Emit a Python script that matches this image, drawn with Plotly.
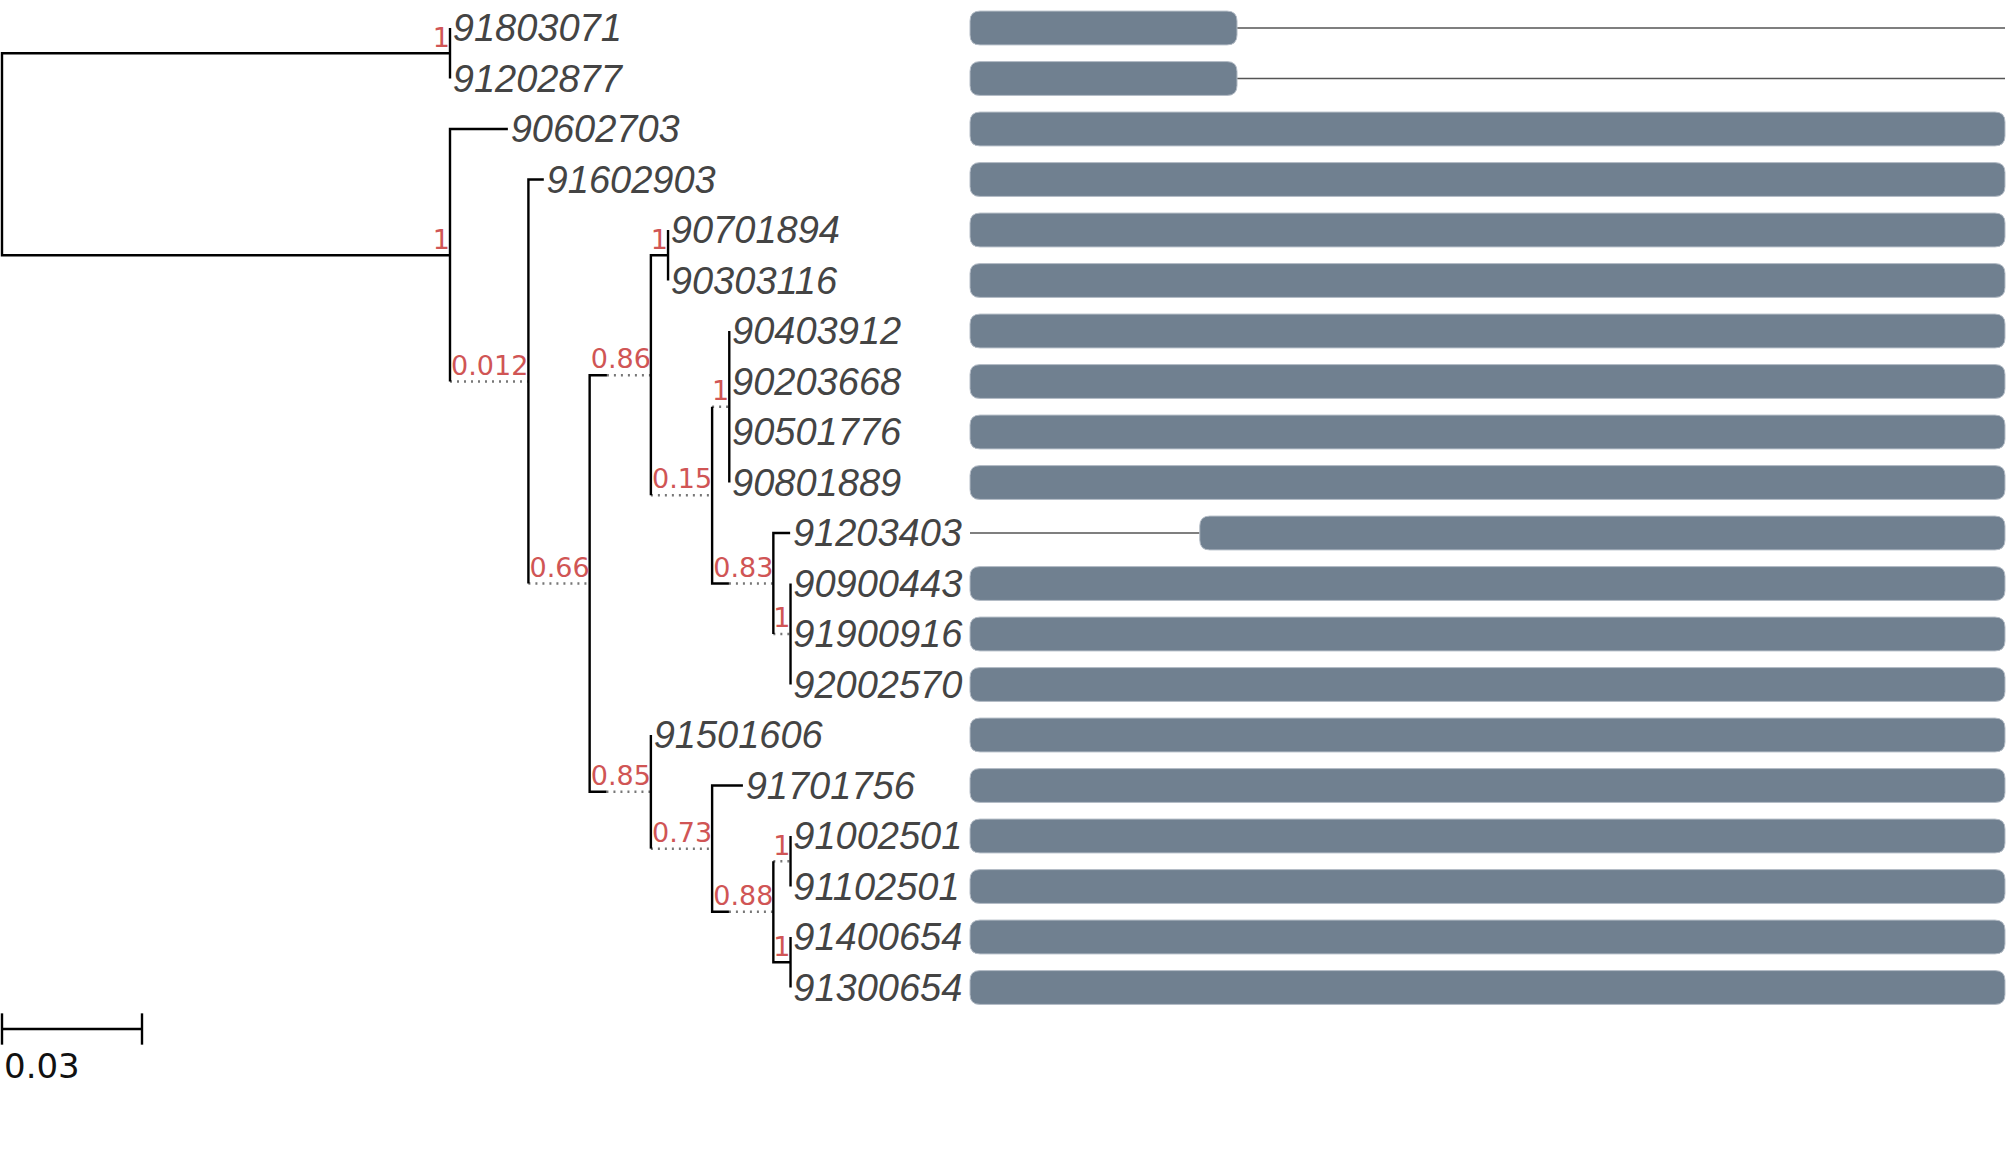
import plotly.graph_objects as go

# tree, one entry per node; children are drawn in list order
node_ids = ["root", "n1", "91803071", "91202877", "n2", "90602703", "n3", "91602903",
            "n4", "n5", "n6", "90701894", "90303116", "n7", "n8",
            "90403912", "90203668", "90501776", "90801889",
            "n9", "91203403", "n10", "90900443", "91900916", "92002570",
            "n11", "91501606", "n12", "91701756", "n13", "n14",
            "91002501", "91102501", "n15", "91400654", "91300654"]
parents = [None, "root", "n1", "n1", "root", "n2", "n2", "n3",
           "n3", "n4", "n5", "n6", "n6", "n5", "n7",
           "n8", "n8", "n8", "n8",
           "n7", "n9", "n9", "n10", "n10", "n10",
           "n4", "n11", "n11", "n12", "n12", "n13",
           "n14", "n14", "n13", "n15", "n15"]
branch_lengths = [0, 0.096, 0, 0, 0.096, 0.0124, 0, 0.0033,
                  0, 0.0037, 0.0036, 0, 0, 0, 0,
                  0, 0, 0, 0,
                  0.0036, 0.0036, 0, 0, 0, 0,
                  0.0036, 0, 0, 0.0066, 0.0036, 0,
                  0, 0, 0.0036, 0, 0]
supports = ["", "1", "", "", "1", "", "0.012", "",
            "0.66", "0.86", "1", "", "", "0.15", "1",
            "", "", "", "",
            "0.83", "", "1", "", "", "",
            "0.85", "", "0.73", "", "0.88", "1",
            "", "", "1", "", ""]

# alignment coverage per leaf (rows top to bottom)
aln_length = 1000
cov_start = [0, 0, 0, 0, 0, 0, 0, 0, 0, 0, 222, 0, 0, 0, 0, 0, 0, 0, 0, 0]
cov_end = [258, 258, 1000, 1000, 1000, 1000, 1000, 1000, 1000, 1000,
           1000, 1000, 1000, 1000, 1000, 1000, 1000, 1000, 1000, 1000]

scale_length = 0.03

W, H = 2007, 1155
PX_PER_UNIT = 140 / 0.03
ROW0, PITCH = 28, 50.5
ALN_L, ALN_R = 970, 2005
SUP_SIZE = 27

children = {n: [] for n in node_ids}
for n, p in zip(node_ids, parents):
    if p:
        children[p].append(n)
blen = dict(zip(node_ids, branch_lengths))
supp = dict(zip(node_ids, supports))


def face_width(s):
    # width of the support text, the branch is padded with dots up to it
    return sum(0.36 if c == "." else 0.636 for c in s) * 27 / PX_PER_UNIT


xpos, ypos, leaves = {}, {}, []


def place(n, x):
    xpos[n] = x
    kids = children[n]
    if not kids:
        ypos[n] = len(leaves)
        leaves.append(n)
        return
    for k in kids:
        place(k, x + max(blen[k], face_width(supp[k])))
    ypos[n] = (ypos[kids[0]] + ypos[kids[-1]]) / 2


place("root", 0)

sx, sy, dx, dy = [], [], [], []
for n in node_ids:
    kids = children[n]
    if not kids:
        continue
    xp = xpos[n]
    first, last = kids[0], kids[-1]
    sx += [xp + blen[first], xp, xp, xp + blen[last], None]
    sy += [ypos[first], ypos[first], ypos[last], ypos[last], None]
    for k in kids[1:-1]:
        if blen[k] > 0:
            sx += [xp, xp + blen[k], None]
            sy += [ypos[k], ypos[k], None]
    for k in kids:
        if xpos[k] - (xp + blen[k]) > 1e-9:
            dx += [xp + blen[k], xpos[k], None]
            dy += [ypos[k], ypos[k], None]

fig = go.Figure()
fig.add_trace(go.Scatter(x=dx, y=dy, mode="lines",
                         line=dict(color="#777777", width=2.5, dash="2px,5px")))
fig.add_trace(go.Scatter(x=sx, y=sy, mode="lines",
                         line=dict(color="black", width=2.4)))

sup_nodes = [n for n in node_ids if supp[n]]
fig.add_trace(go.Scatter(
    x=[xpos[n] for n in sup_nodes], y=[ypos[n] for n in sup_nodes],
    text=[supp[n] for n in sup_nodes], mode="text", textposition="top left",
    textfont=dict(family="DejaVu Sans", size=SUP_SIZE, color="#d05555")))

fig.add_trace(go.Scatter(
    x=[xpos[n] + 0.0006 for n in leaves], y=[ypos[n] + 0.07 for n in leaves],
    text=leaves, mode="text", textposition="middle right",
    textfont=dict(family="Liberation Sans", size=38, color="#444444", style="italic")))

# gaps in the alignment
gx, gy = [], []
for i in range(len(leaves)):
    if cov_start[i] > 0:
        gx += [0, cov_start[i], None]
        gy += [i, i, None]
    if cov_end[i] < aln_length:
        gx += [cov_end[i], aln_length, None]
        gy += [i, i, None]
fig.add_trace(go.Scatter(x=gx, y=gy, mode="lines", xaxis="x2",
                         line=dict(color="#555555", width=1.5)))

rx = 10 / ((ALN_R - ALN_L) / aln_length)
ry = 10 / PITCH
hh = 0.335
for i in range(len(leaves)):
    x0, x1, y0, y1 = cov_start[i], cov_end[i], i - hh, i + hh
    path = (f"M {x0+rx},{y0} L {x1-rx},{y0} Q {x1},{y0} {x1},{y0+ry} "
            f"L {x1},{y1-ry} Q {x1},{y1} {x1-rx},{y1} L {x0+rx},{y1} "
            f"Q {x0},{y1} {x0},{y1-ry} L {x0},{y0+ry} Q {x0},{y0} {x0+rx},{y0} Z")
    fig.add_shape(type="path", path=path, xref="x2", yref="y",
                  fillcolor="#708090", line=dict(color="#b4bcc6", width=1))

# scale bar
ys = (1029 - ROW0) / PITCH
fig.add_trace(go.Scatter(x=[0, scale_length, None, 0, 0, None, scale_length, scale_length],
                         y=[ys, ys, None, ys - 0.31, ys + 0.31, None, ys - 0.31, ys + 0.31],
                         mode="lines", line=dict(color="black", width=2.4)))
fig.add_annotation(x=0, y=ys + 0.3, text=str(scale_length), showarrow=False,
                   xanchor="left", yanchor="top", xshift=0,
                   font=dict(family="DejaVu Sans", size=34, color="#111111"))

fig.update_layout(
    width=W, height=H, margin=dict(l=0, r=0, t=0, b=0),
    plot_bgcolor="white", paper_bgcolor="white", showlegend=False,
    xaxis=dict(range=[-2 / PX_PER_UNIT, (W - 2) / PX_PER_UNIT], visible=False),
    xaxis2=dict(overlaying="x", visible=False,
                range=[-ALN_L * aln_length / (ALN_R - ALN_L),
                       (W - ALN_L) * aln_length / (ALN_R - ALN_L)]),
    yaxis=dict(range=[(H - ROW0) / PITCH, -ROW0 / PITCH], visible=False),
)

fig.write_html("out.html", config={"displayModeBar": False},
               post_script="document.body.style.margin='0';")
